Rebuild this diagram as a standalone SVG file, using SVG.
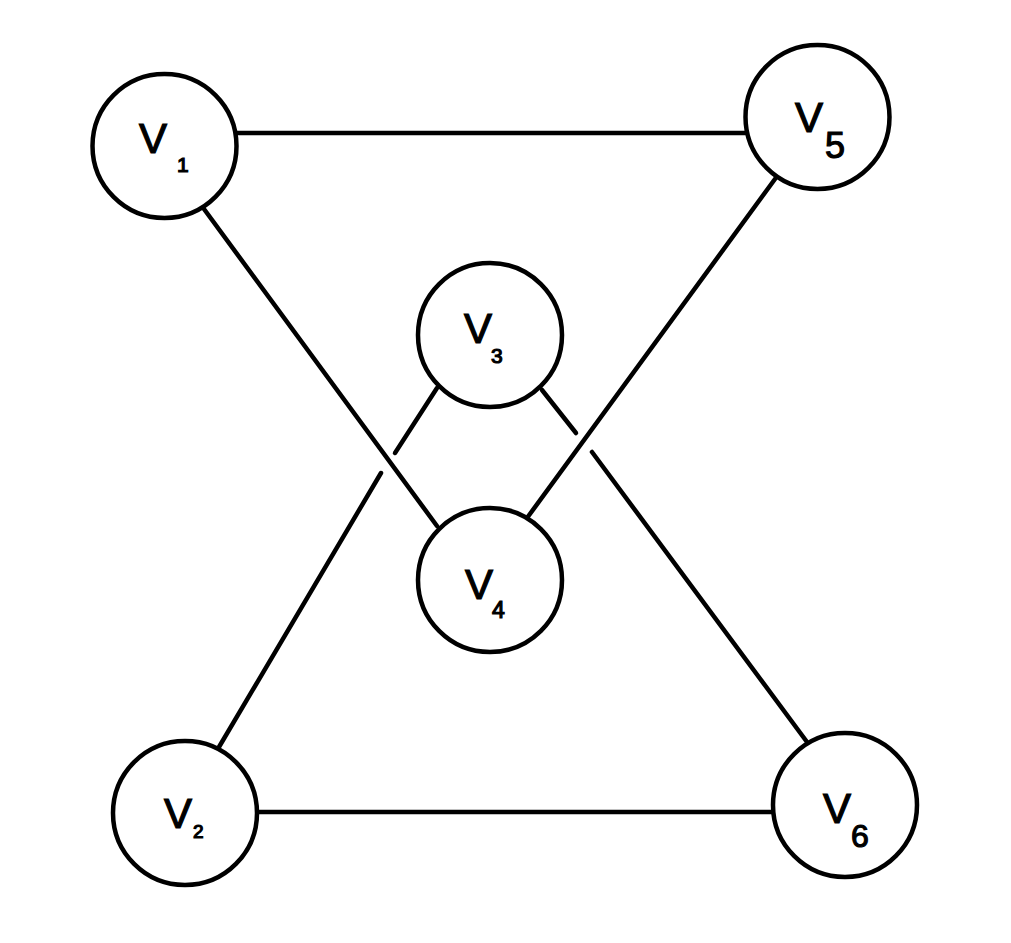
<svg xmlns="http://www.w3.org/2000/svg" width="1011" height="943" viewBox="0 0 1011 943">
<style>
.edge{stroke:#000;stroke-width:4.5;fill:none;stroke-linecap:round}
.node circle{fill:#fff;stroke:#000;stroke-width:4.5}
.lbl{font-family:"Liberation Sans",Arial,sans-serif;fill:#000;stroke:#000;stroke-width:1.2}
.v{font-size:42px}
</style>
<rect width="1011" height="943" fill="#fff"/>
<g id="connectors">
<line class="edge" x1="237" y1="133" x2="746" y2="133"/>
<line class="edge" x1="257" y1="812" x2="773" y2="812"/>
<line class="edge" x1="204" y1="209" x2="437" y2="526"/>
<line class="edge" x1="775" y1="179" x2="527" y2="518"/>
<line class="edge" x1="437" y1="388" x2="395" y2="453"/>
<line class="edge" x1="381" y1="473" x2="219" y2="747"/>
<line class="edge" x1="542" y1="390" x2="576" y2="433"/>
<line class="edge" x1="592" y1="452" x2="807" y2="742"/>
</g>
<g id="v1" class="node"><circle cx="164.5" cy="146" r="72"/><text class="lbl v" x="139" y="153">V</text><text class="lbl" x="177" y="172" font-size="21">1</text></g>
<g id="v5" class="node"><circle cx="817.5" cy="117" r="72"/><text class="lbl v" x="795" y="132">V</text><text class="lbl" x="825" y="158" font-size="36">5</text></g>
<g id="v3" class="node"><circle cx="490" cy="335" r="72"/><text class="lbl v" x="464" y="343">V</text><text class="lbl" x="491" y="363" font-size="21">3</text></g>
<g id="v4" class="node"><circle cx="490" cy="580" r="72"/><text class="lbl v" x="465" y="599">V</text><text class="lbl" x="492" y="618" font-size="23">4</text></g>
<g id="v2" class="node"><circle cx="185" cy="813" r="72"/><text class="lbl v" x="164" y="828">V</text><text class="lbl" x="193" y="838" font-size="19">2</text></g>
<g id="v6" class="node"><circle cx="845" cy="805" r="72"/><text class="lbl v" x="823" y="823">V</text><text class="lbl" x="851" y="847" font-size="32">6</text></g>
</svg>
